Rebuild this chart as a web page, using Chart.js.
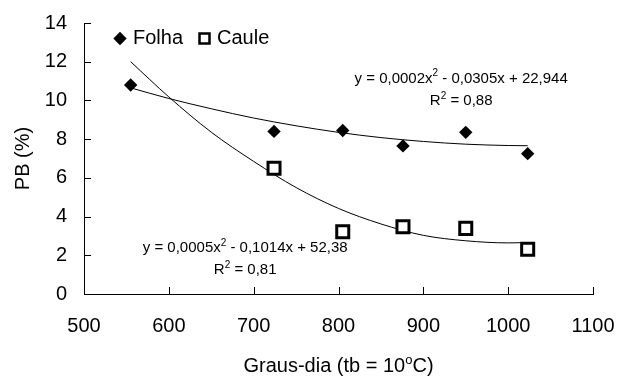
<!DOCTYPE html>
<html>
<head>
<meta charset="utf-8">
<script src="https://cdn.jsdelivr.net/npm/chart.js@4.4.0/dist/chart.umd.min.js"></script>
<style>
  html, body { margin: 0; padding: 0; background: #fff; }
  canvas { display: block; }
</style>
</head>
<body>
<canvas id="pbChart" width="619" height="376"></canvas>
<script>
// measured points
const folhaX = [555, 724, 805, 876, 950, 1023];
const folhaY = [10.8, 8.4, 8.45, 7.65, 8.35, 7.25];
const cauleX = [724, 805, 876, 950, 1023];
const cauleY = [6.5, 3.22, 3.48, 3.39, 2.31];

// trend curves
const trendX = [555, 600, 650, 700, 750, 800, 850, 900, 950, 1000, 1023];
const folhaTrend = [10.65, 10.1, 9.57, 9.09, 8.69, 8.35, 8.08, 7.88, 7.74, 7.67, 7.66];
const cauleTrend = [12.0, 10.18, 8.36, 6.85, 5.5, 4.42, 3.62, 3.03, 2.75, 2.64, 2.66];

const xTicks = [500, 600, 700, 800, 900, 1000, 1100];
const yTicks = [0, 2, 4, 6, 8, 10, 12, 14];

const FONT = '"Liberation Sans", Arial, sans-serif';
Chart.defaults.font.family = FONT;
Chart.defaults.color = '#000';

const pairs = (xs, ys) => xs.map((x, i) => ({ x, y: ys[i] }));

// draws text with superscript pieces, centred on cx, baseline at by
function drawRich(ctx, parts, cx, by, size) {
  const supSize = Math.round(size * 0.65);
  let total = 0;
  parts.forEach(([t, sup]) => {
    ctx.font = (sup ? supSize : size) + 'px ' + FONT;
    total += ctx.measureText(t).width;
  });
  let px = cx - total / 2;
  ctx.textAlign = 'left';
  ctx.textBaseline = 'alphabetic';
  parts.forEach(([t, sup]) => {
    ctx.font = (sup ? supSize : size) + 'px ' + FONT;
    ctx.fillText(t, px, sup ? by - size * 0.42 : by);
    px += ctx.measureText(t).width;
  });
}

const extras = {
  id: 'extras',
  afterDraw(chart) {
    const { ctx, chartArea: ca, scales: { x, y } } = chart;
    ctx.save();

    // inward tick marks
    ctx.strokeStyle = '#000';
    ctx.lineWidth = 1;
    ctx.beginPath();
    yTicks.forEach(v => {
      const py = Math.round(y.getPixelForValue(v)) + 0.5;
      ctx.moveTo(ca.left, py);
      ctx.lineTo(ca.left + 7, py);
    });
    xTicks.forEach(v => {
      const px = Math.round(x.getPixelForValue(v)) + 0.5;
      ctx.moveTo(px, ca.bottom);
      ctx.lineTo(px, ca.bottom - 7);
    });
    ctx.stroke();

    // legend
    const ly = ca.top + 15.5;
    ctx.fillStyle = '#000';
    ctx.beginPath();
    const dx = ca.left + 36;
    ctx.moveTo(dx, ly - 6.7);
    ctx.lineTo(dx + 6.7, ly);
    ctx.lineTo(dx, ly + 6.7);
    ctx.lineTo(dx - 6.7, ly);
    ctx.closePath();
    ctx.fill();
    ctx.lineWidth = 2.5;
    ctx.strokeRect(ca.left + 120.5 - 5, ly - 5, 10, 10);
    ctx.font = '20px ' + FONT;
    ctx.textAlign = 'left';
    ctx.textBaseline = 'middle';
    ctx.fillText('Folha', ca.left + 49, ly);
    ctx.fillText('Caule', ca.left + 133, ly);

    // equations
    const mid = (ca.left + ca.right) / 2;
    drawRich(ctx, [['y = 0,0002x'], ['2', true], [' - 0,0305x + 22,944']],
      x.getPixelForValue(944.6), y.getPixelForValue(10.92), 15);
    drawRich(ctx, [['R'], ['2', true], [' = 0,88']],
      x.getPixelForValue(944.6), y.getPixelForValue(9.74), 15);
    drawRich(ctx, [['y = 0,0005x'], ['2', true], [' - 0,1014x + 52,38']],
      x.getPixelForValue(690), y.getPixelForValue(2.15), 15);
    drawRich(ctx, [['R'], ['2', true], [' = 0,81']],
      x.getPixelForValue(690), y.getPixelForValue(1.02), 15);

    // x axis title
    drawRich(ctx, [['Graus-dia (tb = 10'], ['o', true], ['C)']], mid, 372, 20);

    ctx.restore();
  }
};

new Chart(document.getElementById('pbChart'), {
  type: 'scatter',
  data: {
    datasets: [
      {
        label: 'Folha',
        data: pairs(folhaX, folhaY),
        pointStyle: 'rectRot',
        pointRadius: 6.7,
        backgroundColor: '#000',
        borderColor: '#000',
        borderWidth: 0
      },
      {
        label: 'Caule',
        data: pairs(cauleX, cauleY),
        pointStyle: 'rect',
        pointRadius: 8.5,
        backgroundColor: '#fff',
        borderColor: '#000',
        borderWidth: 3
      },
      {
        label: 'Folha trend',
        data: pairs(trendX, folhaTrend),
        showLine: true,
        pointRadius: 0,
        borderColor: '#000',
        borderWidth: 1,
        cubicInterpolationMode: 'monotone'
      },
      {
        label: 'Caule trend',
        data: pairs(trendX, cauleTrend),
        showLine: true,
        pointRadius: 0,
        borderColor: '#000',
        borderWidth: 1,
        cubicInterpolationMode: 'monotone'
      }
    ]
  },
  options: {
    responsive: false,
    animation: false,
    layout: { padding: { top: 23, right: 26, bottom: 38, left: 0 } },
    plugins: {
      legend: { display: false },
      tooltip: { enabled: false }
    },
    scales: {
      x: {
        type: 'linear',
        min: 500,
        max: 1100,
        afterBuildTicks: s => { s.ticks = xTicks.map(v => ({ value: v })); },
        afterFit: s => { s.height = 44; s.paddingLeft = 0; s.paddingRight = 0; },
        ticks: { padding: 20, font: { size: 20 }, maxRotation: 0, callback: v => String(v) },
        grid: { display: false, drawTicks: false },
        border: { color: '#000', width: 1 }
      },
      y: {
        min: 0,
        max: 14,
        afterBuildTicks: s => { s.ticks = yTicks.map(v => ({ value: v })); },
        afterFit: s => { s.width = 84; s.paddingTop = 0; s.paddingBottom = 0; },
        ticks: { padding: 17, font: { size: 20 }, callback: v => String(v) },
        grid: { display: false, drawTicks: false },
        border: { color: '#000', width: 1 },
        title: {
          display: true,
          text: 'PB (%)',
          font: { size: 20 },
          padding: { top: 11, bottom: 10 }
        }
      }
    }
  },
  plugins: [extras]
});
</script>
</body>
</html>
